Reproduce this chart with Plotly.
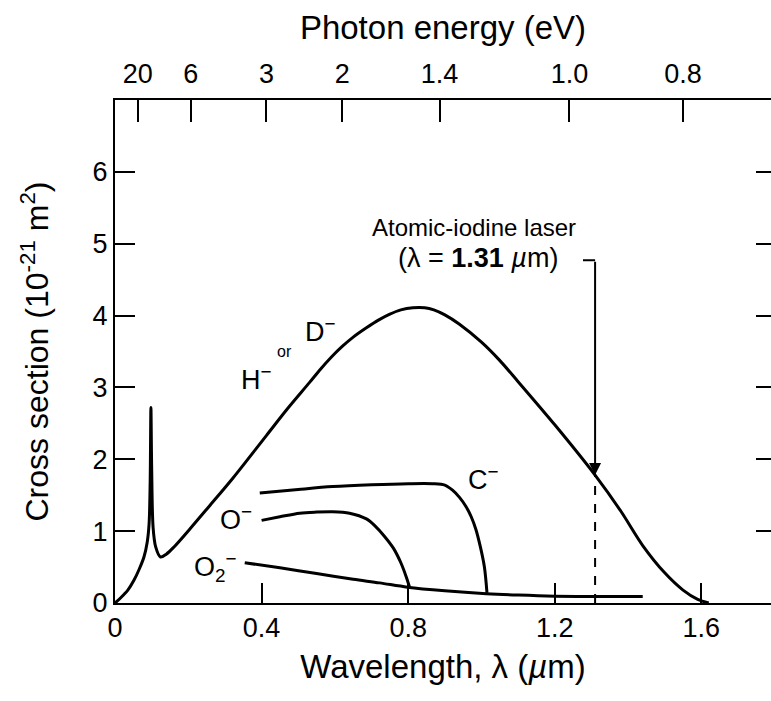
import numpy as np
import plotly.graph_objects as go

# ---- data (wavelength in µm, cross section in 1e-21 m^2) ----
h_lambda = [0.0, 0.015, 0.035, 0.052, 0.066, 0.079, 0.088, 0.093, 0.096, 0.098, 0.100, 0.104,
            0.111, 0.124, 0.140, 0.161, 0.206, 0.256, 0.322, 0.413, 0.470, 0.531, 0.560, 0.590,
            0.620, 0.650, 0.686, 0.720, 0.750, 0.780, 0.813, 0.845, 0.870, 0.900, 0.940, 1.000,
            1.049, 1.100, 1.200, 1.310, 1.380, 1.440, 1.500, 1.550, 1.590, 1.620]
h_sigma = [0.0, 0.07, 0.18, 0.32, 0.47, 0.64, 0.85, 1.10, 1.70, 2.72, 1.90, 1.05,
           0.78, 0.64, 0.68, 0.78, 1.04, 1.34, 1.74, 2.33, 2.70, 3.07, 3.25, 3.42,
           3.57, 3.70, 3.83, 3.94, 4.02, 4.08, 4.11, 4.11, 4.08, 4.01, 3.88, 3.63,
           3.38, 3.08, 2.48, 1.78, 1.28, 0.80, 0.42, 0.18, 0.05, 0.0]

c_lambda = [0.395, 0.50, 0.594, 0.70, 0.80, 0.867, 0.90, 0.921, 0.94, 0.958, 0.972, 0.985,
            0.997, 1.008, 1.015]
c_sigma = [1.53, 1.58, 1.62, 1.645, 1.66, 1.66, 1.64, 1.57, 1.47, 1.34, 1.20, 1.02,
           0.78, 0.50, 0.14]

o_lambda = [0.40, 0.45, 0.504, 0.55, 0.594, 0.64, 0.686, 0.71, 0.735, 0.76, 0.78, 0.795, 0.805]
o_sigma = [1.15, 1.20, 1.25, 1.265, 1.27, 1.25, 1.17, 1.07, 0.93, 0.76, 0.56, 0.36, 0.20]

o2_lambda = [0.354, 0.45, 0.55, 0.65, 0.722, 0.798, 0.90, 1.013, 1.10, 1.20, 1.31, 1.44]
o2_sigma = [0.56, 0.49, 0.41, 0.33, 0.28, 0.22, 0.17, 0.13, 0.11, 0.095, 0.09, 0.09]

x_ticks = [0, 0.4, 0.8, 1.2, 1.6]
x_ticktext = ["0", "0.4", "0.8", "1.2", "1.6"]
y_ticks = [0, 1, 2, 3, 4, 5, 6]
energy_ticks_ev = [20, 6, 3, 2, 1.4, 1.0, 0.8]
energy_ticktext = ["20", "6", "3", "2", "1.4", "1.0", "0.8"]
laser_lambda = 1.31
HC = 1.24  # eV·µm

X_MAX = 1.79
Y_MAX = 7.0
FONT = "Liberation Sans"
LINE = dict(color="black", width=3)

fig = go.Figure()
for xs, ys in [(h_lambda, h_sigma), (c_lambda, c_sigma), (o_lambda, o_sigma), (o2_lambda, o2_sigma)]:
    fig.add_trace(go.Scatter(x=xs, y=ys, mode="lines", line=dict(LINE, shape="spline", smoothing=0.9),
                             hoverinfo="skip"))

# helper trace for the top and right axes
fig.add_trace(go.Scatter(x=[None], y=[None], xaxis="x2", yaxis="y2", mode="lines", showlegend=False))

laser_sigma = float(np.interp(laser_lambda, h_lambda, h_sigma))
arrow_top = 4.77

fig.add_shape(type="line", x0=laser_lambda, x1=laser_lambda, y0=0, y1=laser_sigma,
              xref="x", yref="y", line=dict(color="black", width=2, dash="dash"))
fig.add_shape(type="line", x0=laser_lambda - 0.033, x1=laser_lambda, y0=arrow_top, y1=arrow_top,
              xref="x", yref="y", line=dict(color="black", width=2))
fig.add_annotation(x=laser_lambda, y=laser_sigma, ax=laser_lambda, ay=arrow_top,
                   xref="x", yref="y", axref="x", ayref="y", text="",
                   showarrow=True, arrowhead=2, arrowsize=1.2, arrowwidth=2, arrowcolor="black")

def label(text, x, y, size=27, family=FONT):
    fig.add_annotation(x=x, y=y, xref="x", yref="y", text=text, showarrow=False,
                       font=dict(family=family, size=size, color="black"),
                       xanchor="center", yanchor="middle")

label("Atomic-iodine laser", 0.98, 5.22, size=24)
label("(λ = <b>1.31</b> <i>µ</i>m)", 0.99, 4.80, size=27)
label("H<sup>−</sup>", 0.385, 3.13)
label("or", 0.462, 3.50, size=16)
label("D<sup>−</sup>", 0.56, 3.80)
label("C<sup>−</sup>", 1.005, 1.74)
label("O<sup>−</sup>", 0.33, 1.18)
label("O<sub>2</sub><sup>−</sup>", 0.275, 0.50)

axis_common = dict(showgrid=False, zeroline=False, linecolor="black", linewidth=2,
                   tickcolor="black", tickwidth=2,
                   tickfont=dict(family=FONT, size=27, color="black"))

fig.update_layout(
    width=771, height=701,
    margin=dict(l=115, r=0, t=100, b=98),
    plot_bgcolor="white", paper_bgcolor="white", showlegend=False,
    font=dict(family=FONT, size=27, color="black"),
    xaxis=dict(range=[0, X_MAX], tickvals=x_ticks, ticktext=x_ticktext, ticks="inside", ticklen=20,
               showline=True, title=dict(text="Wavelength, λ (<i>µ</i>m)", standoff=12,
                                         font=dict(family=FONT, size=33)), **axis_common),
    xaxis2=dict(range=[0, X_MAX], overlaying="x", side="top", anchor="y",
                tickvals=[HC / e for e in energy_ticks_ev], ticktext=energy_ticktext,
                ticks="inside", ticklen=22, showline=True, ticklabelstandoff=4,
                title=dict(text="Photon energy (eV)", standoff=10, font=dict(family=FONT, size=33)),
                **axis_common),
    yaxis=dict(range=[0, Y_MAX], tickvals=y_ticks, ticks="inside", ticklen=20, showline=True,
               title=dict(text="Cross section (10<sup>-21</sup> m<sup>2</sup>)", standoff=34,
                          font=dict(family=FONT, size=32)), **axis_common),
    yaxis2=dict(range=[0, Y_MAX], overlaying="y", side="right", anchor="x",
                tickvals=[1, 2, 3, 4, 5, 6], ticks="inside", ticklen=15, showline=False,
                showticklabels=False, showgrid=False, zeroline=False, tickcolor="black", tickwidth=2),
)

fig.write_html("out.html")
